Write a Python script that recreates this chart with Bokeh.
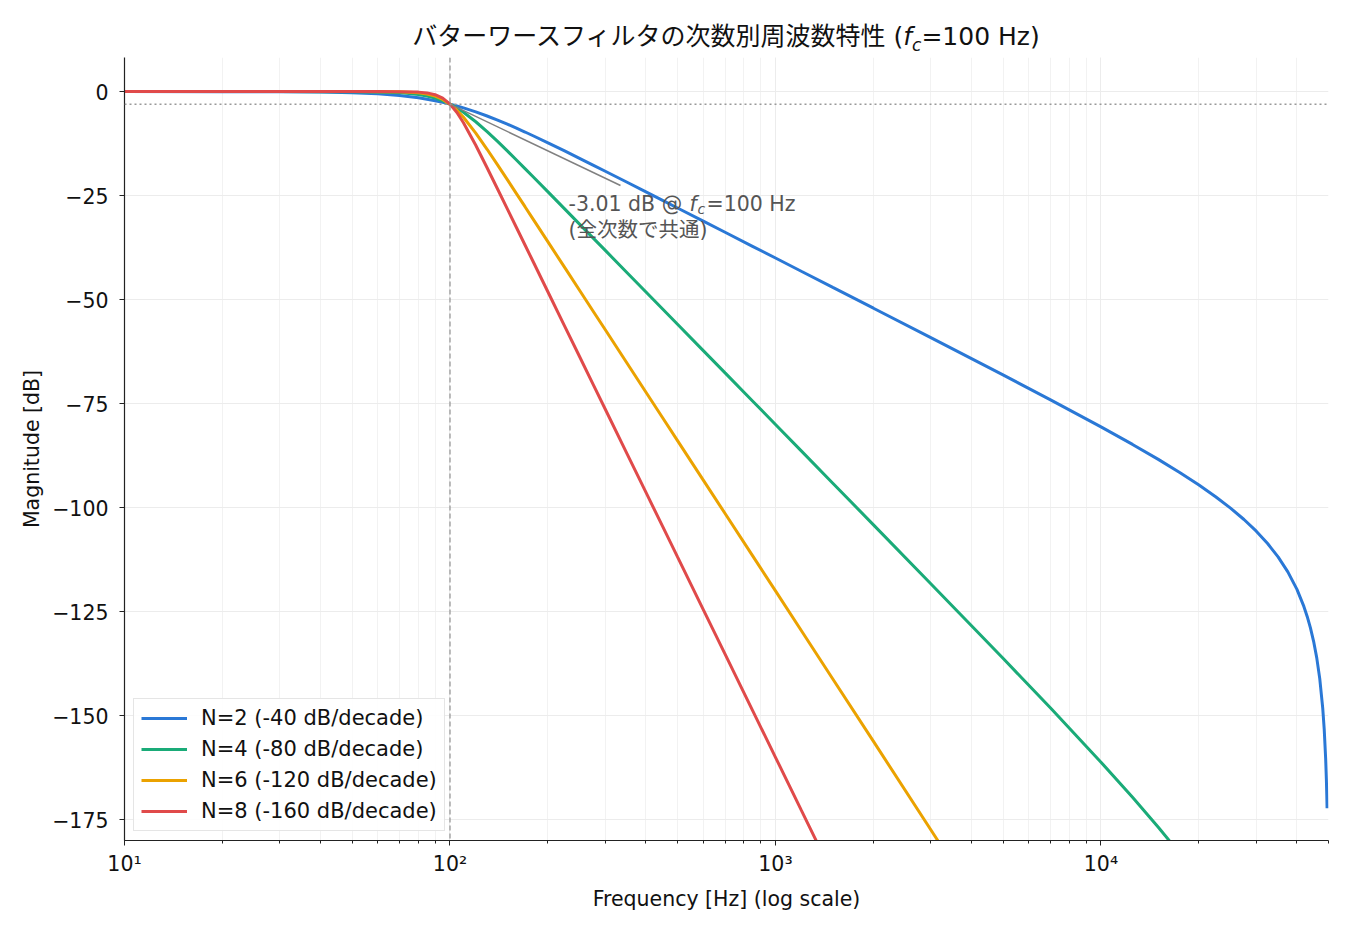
from bokeh.plotting import figure
from bokeh.layouts import column
from bokeh.models import Span, Label, Legend, LegendItem, Range1d, FixedTicker, LogTicker, Div
from bokeh.embed import file_html
from bokeh.resources import INLINE
import math

# ---- data ----
FREQ = [10, 20, 30, 40, 50, 60, 70, 80, 85, 90, 95,
        100, 105, 110, 120, 130, 140, 150, 160, 170, 180,
        200, 225, 250, 275, 300, 350, 400, 450, 500, 600, 700, 850,
        1000, 1200, 1500, 2000, 3000, 5000, 7000,
        10000, 12500, 15000, 17500, 20000, 22500, 25000, 27500, 30000, 32500, 35000, 37500, 40000,
        42000, 43000, 44000, 45000, 46000, 47000, 48000, 48500, 49000, 49250, 49400, 49500]

DB_N2 = [0.0, -0.007, -0.035, -0.110, -0.263, -0.529, -0.935, -1.491, -1.824, -2.191, -2.588,
         -3.010, -3.455, -3.917, -4.876, -5.862, -6.850, -7.827, -8.782, -9.709, -10.606,
         -12.30, -14.25, -16.03, -17.65, -19.14, -21.79, -24.10, -26.14, -27.97, -31.13, -33.81, -37.18,
         -40.00, -43.18, -47.06, -52.06, -59.14, -68.10, -74.09,
         -80.58, -84.80, -88.40, -91.61, -94.56, -97.37, -100.11, -102.85, -105.66, -108.62, -111.83, -115.43, -119.64,
         -123.74, -126.14, -128.89, -132.13, -136.05, -141.09, -148.16, -153.17, -160.22, -165.22, -169.10, -172.27]
DB_N4 = [0.0, 0.0, -0.0003, -0.003, -0.017, -0.072, -0.243, -0.674, -1.047, -1.555, -2.210,
         -3.010, -3.940, -4.974, -7.243, -9.618, -11.975, -14.25, -16.43, -18.50, -20.46,
         -24.10, -28.18, -31.84, -35.15, -38.17, -43.53, -48.17, -52.26, -55.92, -62.25, -67.61, -74.35,
         -80.00, -86.35, -94.12, -104.13, -118.27, -136.20, -148.17,
         -161.17, -169.61, -176.80, -183.21]
DB_N6 = [0.0, 0.0, 0.0, -0.0001, -0.001, -0.009, -0.060, -0.289, -0.578, -1.080, -1.876,
         -3.010, -4.465, -6.168, -9.963, -13.86, -17.61, -21.16, -24.51, -27.66, -30.64,
         -36.12, -42.26, -47.75, -52.72, -57.25, -65.29, -72.25, -78.39, -83.88, -93.38, -101.41, -111.53,
         -120.00, -129.53, -141.17, -156.19, -177.41, -204.30]
DB_N8 = [0.0, 0.0, 0.0, 0.0, -0.0001, -0.001, -0.014, -0.121, -0.311, -0.739, -1.584,
         -3.010, -5.028, -7.478, -12.90, -18.30, -23.40, -28.18, -32.66, -36.87, -40.84,
         -48.17, -56.35, -63.67, -70.29, -76.34, -87.05, -96.33, -104.51, -111.84, -124.50, -135.22, -148.71,
         -160.00, -172.70, -188.23]

SERIES_LABELS = ["N=2 (-40 dB/decade)", "N=4 (-80 dB/decade)",
                 "N=6 (-120 dB/decade)", "N=8 (-160 dB/decade)"]
SERIES_COLORS = ["#2a78d6", "#1aab78", "#eba200", "#e04a4a"]

Y_TICKS = [0, -25, -50, -75, -100, -125, -150, -175]
Y_TICK_LABELS = ["0", "\u221225", "\u221250", "\u221275", "\u2212100", "\u2212125", "\u2212150", "\u2212175"]
X_TICKS = [10, 100, 1000, 10000]
X_TICK_LABELS = ["10\u00b9", "10\u00b2", "10\u00b3", "10\u2074"]

FC = 100
CUTOFF_DB = -3.01

FONT = "DejaVu Sans, Noto Sans CJK JP"
FS = "20.5px"

X0, X1 = 10, 50000
Y0, Y1 = -180, 8.2
W, H = 1350, 930
TITLE_H = 57
LEFT, RIGHT, BOTTOM = 124, 22, 90
FW, FH = W - LEFT - RIGHT, H - TITLE_H - BOTTOM


def dx(px):
    return 10 ** (math.log10(X0) + (px - LEFT) / FW * (math.log10(X1) - math.log10(X0)))


def dy(py):
    return Y1 - (py - TITLE_H) / FH * (Y1 - Y0)


p = figure(width=W, height=H - TITLE_H, x_axis_type="log", output_backend="svg", toolbar_location=None,
           x_range=Range1d(X0, X1), y_range=Range1d(Y0, Y1))
p.min_border_left = LEFT
p.min_border_right = RIGHT
p.min_border_top = 0
p.min_border_bottom = BOTTOM
p.outline_line_color = None
p.background_fill_color = "white"
p.border_fill_color = "white"

# grid
p.xgrid.grid_line_color = "#ececec"
p.xgrid.minor_grid_line_color = "#f2f2f2"
p.ygrid.grid_line_color = "#ececec"

# axes
p.xaxis.ticker = LogTicker(num_minor_ticks=10)
p.xaxis.major_label_overrides = {t: l for t, l in zip(X_TICKS, X_TICK_LABELS)}
p.yaxis.ticker = FixedTicker(ticks=Y_TICKS)
p.yaxis.major_label_overrides = {t: l for t, l in zip(Y_TICKS, Y_TICK_LABELS)}
for ax in (p.xaxis[0], p.yaxis[0]):
    ax.axis_line_color = "#222222"
    ax.axis_line_width = 1.2
    ax.major_tick_line_color = "#222222"
    ax.major_tick_out = 5
    ax.major_tick_in = 0
    ax.major_label_text_font = FONT
    ax.major_label_text_font_size = FS
    ax.major_label_text_color = "#111111"
    ax.axis_label_text_font = FONT
    ax.axis_label_text_font_size = FS
    ax.axis_label_text_font_style = "normal"
    ax.axis_label_text_color = "#111111"
p.xaxis.minor_tick_line_color = "#222222"
p.xaxis.minor_tick_out = 3
p.xaxis.minor_tick_in = 0
p.yaxis.minor_tick_line_color = None
p.xaxis.axis_label = "Frequency [Hz] (log scale)"
p.yaxis.axis_label = "Magnitude [dB]"
p.xaxis.major_label_standoff = 6
p.xaxis.axis_label_standoff = 8
p.yaxis.major_label_standoff = 11
p.yaxis.axis_label_standoff = 5

# reference lines
p.add_layout(Span(location=FC, dimension="height", line_color="#999999",
                  line_dash="5 3", line_width=1.3))
p.add_layout(Span(location=CUTOFF_DB, dimension="width", line_color="#999999",
                  line_dash="2 3", line_width=1.5))

# curves
items = []
for db, lab, col in zip([DB_N2, DB_N4, DB_N6, DB_N8], SERIES_LABELS, SERIES_COLORS):
    r = p.line(FREQ[:len(db)], db, line_color=col, line_width=3)
    items.append(LegendItem(label=lab, renderers=[r]))

# annotation arrow (no head)
p.segment(x0=[FC], y0=[CUTOFF_DB], x1=[dx(620)], y1=[dy(185)], line_color="#808080", line_width=1.5)

ANN_COLOR = "#555555"
ann_y1 = dy(203)
ann_y2 = dy(229)
p.add_layout(Label(x=dx(568), y=ann_y1, text="-3.01 dB @ ", text_font=FONT, text_font_size=FS,
                   text_color=ANN_COLOR, text_baseline="middle", text_align="left"))
p.add_layout(Label(x=dx(689), y=ann_y1, text="f", text_font=FONT, text_font_size=FS,
                   text_font_style="italic", text_color=ANN_COLOR, text_baseline="middle", text_align="left"))
p.add_layout(Label(x=dx(697), y=dy(208), text="c", text_font=FONT, text_font_size="14px",
                   text_font_style="italic", text_color=ANN_COLOR, text_baseline="middle", text_align="left"))
p.add_layout(Label(x=dx(706), y=ann_y1, text="=100 Hz", text_font=FONT, text_font_size=FS,
                   text_color=ANN_COLOR, text_baseline="middle", text_align="left"))
p.add_layout(Label(x=dx(568), y=ann_y2, text="(全次数で共通)", text_font=FONT, text_font_size=FS,
                   text_color=ANN_COLOR, text_baseline="middle", text_align="left"))

legend = Legend(items=items, location="bottom_left")
legend.label_text_font = FONT
legend.label_text_font_size = "21px"
legend.label_text_color = "#111111"
legend.glyph_width = 46
legend.glyph_height = 24
legend.label_height = 24
legend.label_standoff = 14
legend.spacing = 7
legend.padding = 7
legend.margin = 9
legend.border_line_color = "#cccccc"
legend.border_line_width = 1
legend.background_fill_alpha = 0.9
p.add_layout(legend)

title = Div(
    text=('<div style="width:%dpx;margin-left:%dpx;text-align:center;'
          'font-family:\'DejaVu Sans\',\'Noto Sans CJK JP\';font-size:25px;color:#111;'
          'line-height:25px;padding-top:24px;white-space:nowrap;">'
          'バターワースフィルタの次数別周波数特性 (<i>f</i><sub style="font-size:17px;line-height:0;">'
          '<i>c</i></sub>=100 Hz)</div>') % (FW, LEFT),
    width=W, height=TITLE_H, margin=0)

layout = column(title, p, spacing=0)
open("out.html", "w").write(file_html(layout, INLINE))
